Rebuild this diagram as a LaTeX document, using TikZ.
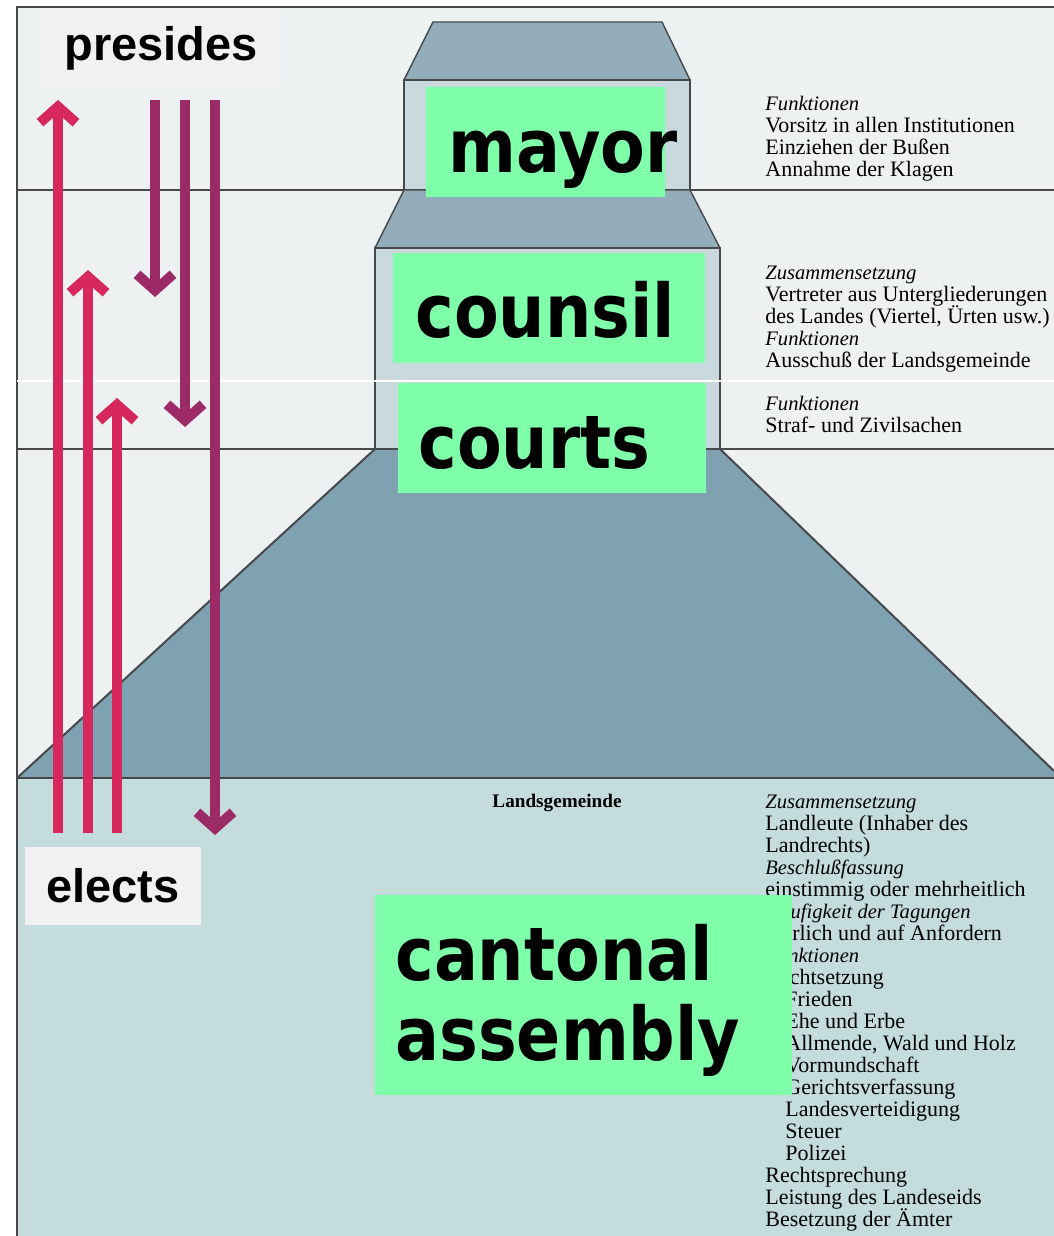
\documentclass[tikz,border=0pt]{standalone}
\usepackage{fontspec}
\setmainfont{Liberation Serif}
\newfontfamily\tagfont[FakeStretch=0.88]{DejaVu Sans}
\newfontfamily\verbfont{Liberation Sans}
\usetikzlibrary{arrows.meta}
\definecolor{paper}{RGB}{237,241,241}
\definecolor{lowpaper}{RGB}{197,220,221}
\definecolor{hill}{RGB}{127,162,178}
\definecolor{roof}{RGB}{147,173,187}
\definecolor{wall}{RGB}{201,217,221}
\definecolor{tag}{RGB}{127,255,170}
\definecolor{labelbg}{RGB}{241,241,241}
\definecolor{elred}{RGB}{214,40,92}
\definecolor{prpl}{RGB}{156,42,102}
\definecolor{rule}{RGB}{70,72,74}
\newcommand\fhead[1]{{\itshape\fontsize{10.3}{11}\selectfont #1}}
\newcommand\sub{\hspace*{10pt}}
\newcommand\notefont{\fontsize{11}{11}\selectfont\setlength{\lineskiplimit}{-6pt}}
\begin{document}
\begin{tikzpicture}[x=0.5pt,y=-0.5pt,
    edge/.style={draw=rule,line width=1pt},
    block/.style={draw=rule,line width=0.7pt},
    info/.style={anchor=north west,inner sep=0pt,align=left,font=\notefont},
    tagtext/.style={anchor=base west,inner sep=0pt,font=\tagfont\bfseries\fontsize{37}{40}\selectfont},
    verb/.style={fill=labelbg,inner sep=0pt,font=\verbfont\bfseries\fontsize{23.5}{24}\selectfont},
    upline/.style={line width=5pt,draw=elred,-{Straight Barb[length=8pt,width=18pt]}},
    downline/.style={line width=5pt,draw=prpl,-{Straight Barb[length=8pt,width=18pt]}}]
    \useasboundingbox (0,0) rectangle (1054,1236);
    % Page
    \fill[white] (0,0) rectangle (1054,1236);
    \fill[paper] (17,7) rectangle (1054,778);
    \fill[lowpaper] (17,778) rectangle (1054,1236);
    % Landsgemeinde hill
    \fill[hill] (17,778) -- (375,449) -- (720,449) -- (1054,771) -- (1054,778) -- cycle;
    \draw[edge] (17,778) -- (375,449);
    \draw[edge] (720,449) -- (1054,771);
    % Levels
    \draw[edge] (17,1236) -- (17,7) -- (1054,7);
    \draw[edge] (17,190) -- (1054,190);
    \draw[edge] (17,449) -- (1054,449);
    \draw[edge] (17,778) -- (1054,778);
    % Mayor block
    \filldraw[fill=roof,block] (404,80) -- (433,22) -- (662,22) -- (690,80) -- cycle;
    \filldraw[fill=wall,block] (404,80) rectangle (690,190);
    % Council and courts block
    \filldraw[fill=roof,block] (375,248) -- (404,190) -- (690,190) -- (720,248) -- cycle;
    \filldraw[fill=wall,block] (375,248) rectangle (720,449);
    \draw[white,line width=1.2pt] (17,381) -- (1054,381);

    % Notes
    \node[info] (mayornote) at (765,96) {\fhead{Funktionen}\\
        Vorsitz in allen Institutionen\\
        Einziehen der Bußen\\
        Annahme der Klagen};
    \node[info] (councilnote) at (765,266) {\fhead{Zusammensetzung}\\
        Vertreter aus Untergliederungen\\
        des Landes (Viertel, Ürten usw.)\\
        \fhead{Funktionen}\\
        Ausschuß der Landsgemeinde};
    \node[info] (courtsnote) at (765,396) {\fhead{Funktionen}\\
        Straf- und Zivilsachen};
    \node[anchor=base,inner sep=0pt,font=\bfseries\fontsize{9.6}{11}\selectfont] (lg) at (557,807) {Landsgemeinde};
    \node[info] (assemblynote) at (765,795) {\fhead{Zusammensetzung}\\
        Landleute (Inhaber des\\
        Landrechts)\\
        \fhead{Beschlußfassung}\\
        einstimmig oder mehrheitlich\\
        \fhead{Häufigkeit der Tagungen}\\
        jährlich und auf Anfordern\\
        \fhead{Funktionen}\\
        Rechtsetzung\\
        \sub Frieden\\
        \sub Ehe und Erbe\\
        \sub Allmende, Wald und Holz\\
        \sub Vormundschaft\\
        \sub Gerichtsverfassung\\
        \sub Landesverteidigung\\
        \sub Steuer\\
        \sub Polizei\\
        Rechtsprechung\\
        Leistung des Landeseids\\
        Besetzung der Ämter};

    % Tags
    \fill[tag] (426,87) rectangle (665,197);
    \node[tagtext] (mayor) at (448,172) {mayor};
    \fill[tag] (393,253) rectangle (705,363);
    \node[tagtext] (counsil) at (415,337) {counsil};
    \fill[tag] (398,383) rectangle (706,493);
    \node[tagtext] (courts) at (418,468) {courts};
    \fill[tag] (375,895) rectangle (792,1095);
    \node[tagtext] (cantonal) at (395,980) {cantonal};
    \node[tagtext] (assembly) at (395,1060) {assembly};

    % Arrows
    \coordinate (e1) at (58,833);  \coordinate (p1) at (58,100);
    \coordinate (e2) at (88,833);  \coordinate (p2) at (88,270);
    \coordinate (e3) at (117,833); \coordinate (p3) at (117,398);
    \coordinate (d1) at (155,100); \coordinate (t1) at (155,297);
    \coordinate (d2) at (185,100); \coordinate (t2) at (185,427);
    \coordinate (d3) at (215,100); \coordinate (t3) at (215,835);
    \draw[upline] (e1) -- (p1);
    \draw[upline] (e2) -- (p2);
    \draw[upline] (e3) -- (p3);
    \draw[downline] (d1) -- (t1);
    \draw[downline] (d2) -- (t2);
    \draw[downline] (d3) -- (t3);

    % Labels
    \node[verb,minimum width=119pt,minimum height=38.5pt] (presides) at (161,48.5) {presides};
    \node[verb,minimum width=88pt,minimum height=39pt] (elects) at (113,886) {elects};
\end{tikzpicture}
\end{document}
